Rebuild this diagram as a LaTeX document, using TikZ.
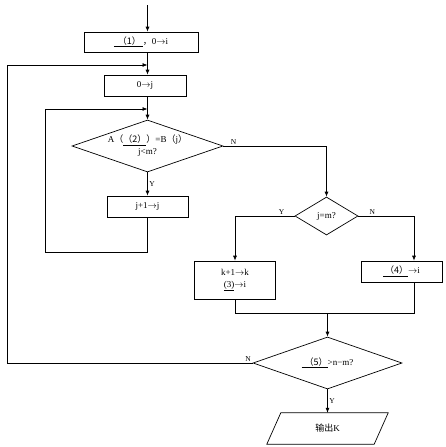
\documentclass[tikz,border=0pt]{standalone}
\usepackage{fontspec}
\setmainfont{Liberation Serif}
\newfontfamily\cjk{Noto Sans CJK SC}
\usetikzlibrary{shapes.geometric,arrows.meta}
\begin{document}
\begin{tikzpicture}[x=1pt,y=-1pt, font=\fontsize{9}{12}\selectfont,
 box/.style={draw, line width=0.7pt, inner sep=0pt, align=center},
 dia/.style={draw, diamond, aspect=3, line width=0.7pt, inner sep=0pt, align=center},
 line/.style={line width=0.7pt},
 arr/.style={line width=0.7pt, -{Latex[length=5pt,width=4pt]}},
 lbl/.style={font=\fontsize{7.5}{8}\selectfont, inner sep=1.5pt}]
\useasboundingbox (0,0) rectangle (445,447);
% nodes
\node[box, minimum width=114, minimum height=20] (b1) at (141,42)
  {\underline{\hspace{4pt}{\cjk （1）}\hspace{2pt}}{\cjk ，}0$\rightarrow$i};
\node[box, minimum width=82, minimum height=21] (b2) at (145,85.5) {0$\rightarrow$j};
\node[dia, minimum width=151, minimum height=52] (d1) at (147.5,146)
  {A{\cjk （}\underline{\cjk （2）}{\cjk ）}=B{\cjk （}j{\cjk ）}\\j<m?};
\node[box, minimum width=81, minimum height=21] (b3) at (147.5,206.5) {j+1$\rightarrow$j};
\node[dia, minimum width=63, minimum height=38] (d2) at (326.5,216) {j=m?};
\node[box, minimum width=81, minimum height=38] (b4) at (235,280)
  {k+1$\rightarrow$k\\\underline{(3)}$\rightarrow$i};
\node[box, minimum width=81, minimum height=21] (b5) at (401.5,271.5)
  {\underline{\hspace{2pt}{\cjk （4）}}$\rightarrow$i};
\node[dia, minimum width=149, minimum height=52] (d3) at (327.5,363)
  {\underline{\hspace{3pt}{\cjk （5）}}>n−m?};
\node[minimum width=107, minimum height=31, inner sep=0pt] (out) at (327.5,428.5) {{\cjk 输出}K};
\draw[line] ([xshift=7pt]out.north west) -- ([xshift=7pt]out.north east)
  -- ([xshift=-7pt]out.south east) -- ([xshift=-7pt]out.south west) -- cycle;
% coordinates
\coordinate (top) at (147.5,5);
\coordinate (l1) at (7,65);
\coordinate (l2) at (45,109);
\coordinate (m) at (327.5,313);
\coordinate (b5in) at ([xshift=12.5pt]b5.north);
\coordinate (b5out) at ([xshift=12.5pt]b5.south);
% connectors
\draw[arr] (top) -- (top |- b1.north);
\draw[arr] (b1.south -| top) -- (b2.north -| top);
\draw[arr] (b2.south -| top) -- (d1.north);
\draw[arr] (d1.south) -- node[lbl, right]{Y} (b3.north);
\draw[arr] (b3.south) -- ++(0,35) -| (l2) -- (l2 -| top);
\draw[arr] (d1.east) -- node[lbl, above, pos=0.1]{N} (d1.east -| d2.north) -- (d2.north);
\draw[arr] (d2.west) -- node[lbl, above, pos=0.22]{Y} (d2.west -| b4.north) -- (b4.north);
\draw[arr] (d2.east) -- node[lbl, above, pos=0.25]{N} (d2.east -| b5in) -- (b5in);
\draw[line] (b4.south) |- (m);
\draw[line] (b5out) |- (m);
\draw[arr] (m) -- (d3.north);
\draw[arr] (d3.west) -- node[lbl, above left, pos=0.0]{N} (d3.west -| l1) -- (l1) -- (l1 -| top);
\draw[arr] (d3.south) -- node[lbl, right]{Y} (out.north);
\end{tikzpicture}
\end{document}
